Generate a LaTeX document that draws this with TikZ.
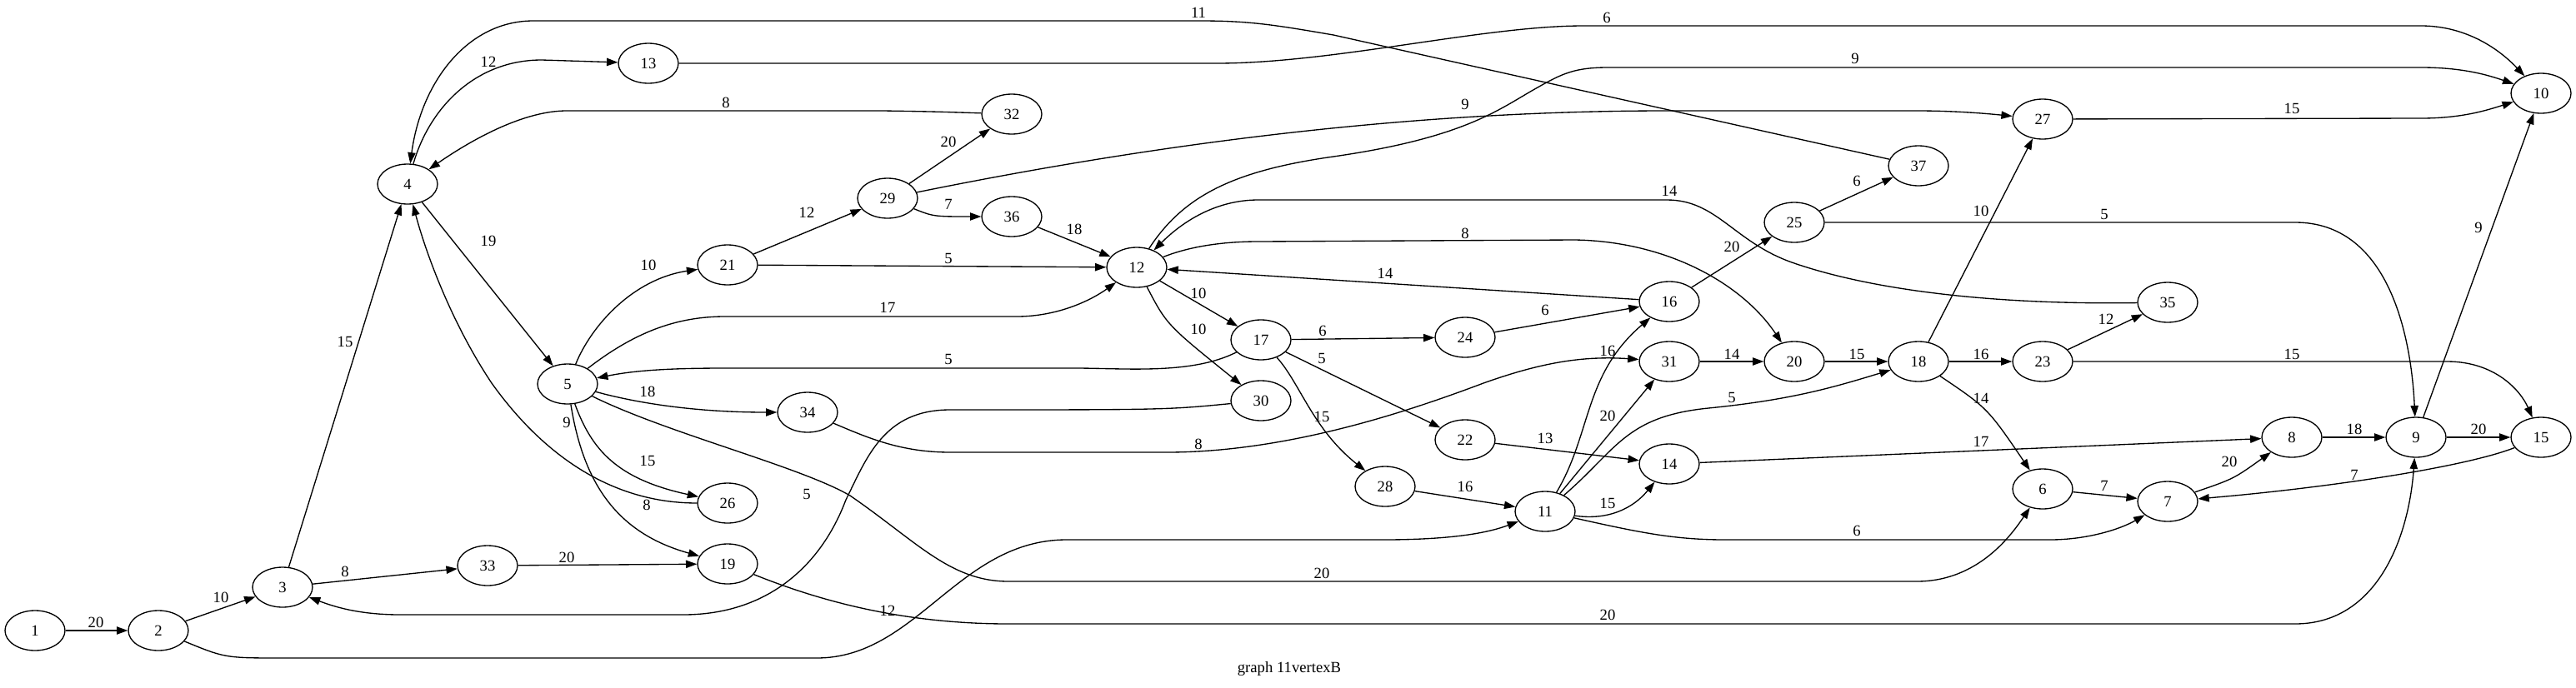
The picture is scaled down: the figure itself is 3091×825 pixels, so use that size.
\documentclass[tikz,border=0pt]{standalone}
\usepackage{fontspec}
\setmainfont{Liberation Serif}
\usetikzlibrary{shapes.geometric,arrows.meta}
\newcommand{\gvvertex}[2]{\node[VertexStyle] (v#1) at (#2) {#1};}
\newcommand{\gvweight}[3]{\node[LabelStyle] (w#1) at (#2) {#3};}
\tikzset{
  VertexStyle/.style={draw, ellipse, line width=1pt, minimum width=54pt,
                      minimum height=36pt, inner sep=0pt,
                      font=\fontsize{14}{16}\selectfont},
  EdgeStyle/.style={line width=1pt, -{Triangle[length=10pt,width=7pt]}},
  LabelStyle/.style={inner sep=0pt, font=\fontsize{14}{16}\selectfont}
}

\begin{document}
\begin{tikzpicture}[x=0.75pt, y=-0.75pt]
  \useasboundingbox (0,0) rectangle (3091,825);
  \gvvertex{1}{42,757}
  \gvvertex{2}{190,757}
  \gvvertex{3}{339,705}
  \gvvertex{4}{489,221}
  \gvvertex{33}{585,679}
  \gvvertex{5}{681,461}
  \gvvertex{13}{778,76}
  \gvvertex{21}{873,318}
  \gvvertex{26}{873,604}
  \gvvertex{19}{873,677}
  \gvvertex{34}{969,495}
  \gvvertex{29}{1065,238}
  \gvvertex{32}{1214,137}
  \gvvertex{36}{1214,260}
  \gvvertex{12}{1364,321}
  \gvvertex{17}{1513,408}
  \gvvertex{30}{1513,481}
  \gvvertex{28}{1662,584}
  \gvvertex{24}{1758,405}
  \gvvertex{22}{1758,528}
  \gvvertex{11}{1854,614}
  \gvvertex{16}{2003,362}
  \gvvertex{31}{2003,434}
  \gvvertex{14}{2003,557}
  \gvvertex{25}{2153,267}
  \gvvertex{20}{2153,434}
  \gvvertex{37}{2302,199}
  \gvvertex{18}{2302,434}
  \gvvertex{27}{2451,143}
  \gvvertex{23}{2451,434}
  \gvvertex{6}{2451,587}
  \gvvertex{35}{2601,363}
  \gvvertex{7}{2601,602}
  \gvvertex{8}{2750,525}
  \gvvertex{9}{2899,525}
  \gvvertex{10}{3049,112}
  \gvvertex{15}{3049,525}
  \node[LabelStyle] (title) at (1547,803) {graph 11vertexB};

  \draw[EdgeStyle] (v1) -- (v2);
  \draw[EdgeStyle] (v2) -- (v3);
  \draw[EdgeStyle] (v2) .. controls (270,790) .. (340,790) -- (980,790) .. controls (1100,790) and (1150,648) .. (1280,648) -- (1660,648) .. controls (1750,648) and (1790,638) .. (v11);
  \draw[EdgeStyle] (v3) -- (v33);
  \draw[EdgeStyle] (v3) -- (v4);
  \draw[EdgeStyle] (v4) .. controls (515,130) and (570,72) .. (650,72) -- (v13);
  \draw[EdgeStyle] (v4) -- (v5);
  \draw[EdgeStyle] (v5) .. controls (710,390) and (760,335) .. (v21);
  \draw[EdgeStyle] (v5) .. controls (760,400) and (810,380) .. (870,380) -- (1220,380) .. controls (1270,380) and (1310,360) .. (v12);
  \draw[EdgeStyle] (v5) .. controls (750,480) and (820,495) .. (v34);
  \draw[EdgeStyle] (v5) .. controls (710,540) and (740,575) .. (v26);
  \draw[EdgeStyle] (v5) .. controls (700,580) and (740,640) .. (v19);
  \draw[EdgeStyle] (v5) .. controls (800,520) and (960,560) .. (1020,595) .. controls (1100,650) and (1140,698) .. (1210,698) -- (2300,698) .. controls (2375,698) and (2415,640) .. (v6);
  \draw[EdgeStyle] (v17) .. controls (1430,450) and (1350,442) .. (1290,442) -- (870,442) .. controls (800,442) and (760,445) .. (v5);
  \draw[EdgeStyle] (v26) .. controls (720,604) and (640,530) .. (590,460) .. controls (540,385) and (510,300) .. (v4);
  \draw[EdgeStyle] (v32) .. controls (1120,134) .. (1060,133) -- (680,133) .. controls (630,133) and (570,165) .. (v4);
  \draw[EdgeStyle] (v37) -- (1600,42) .. controls (1530,30) and (1500,25) .. (1440,25) -- (640,25) .. controls (560,25) and (505,100) .. (v4);
  \draw[EdgeStyle] (v33) -- (v19);
  \draw[EdgeStyle] (v13) -- (1460,76) .. controls (1600,76) and (1780,31) .. (1900,31) -- (2905,31) .. controls (2955,31) and (2995,55) .. (v10);
  \draw[EdgeStyle] (v21) -- (v29);
  \draw[EdgeStyle] (v21) -- (v12);
  \draw[EdgeStyle] (v29) -- (v32);
  \draw[EdgeStyle] (v29) .. controls (1120,260) .. (v36);
  \draw[EdgeStyle] (v29) .. controls (1400,170) and (1700,133) .. (2000,133) -- (2300,133) .. controls (2350,133) and (2390,137) .. (v27);
  \draw[EdgeStyle] (v36) -- (v12);
  \draw[EdgeStyle] (v12) -- (v17);
  \draw[EdgeStyle] (v12) .. controls (1400,390) .. (v30);
  \draw[EdgeStyle] (v12) .. controls (1420,235) and (1480,205) .. (1600,188) .. controls (1760,165) and (1800,130) .. (1845,105) .. controls (1875,88) and (1890,81) .. (1930,81) -- (2905,81) .. controls (2955,81) and (2985,90) .. (v10);
  \draw[EdgeStyle] (v12) .. controls (1430,295) and (1470,290) .. (1510,290) -- (1890,288) .. controls (2000,290) and (2090,340) .. (v20);
  \draw[EdgeStyle] (v35) .. controls (2400,366) and (2250,350) .. (2150,315) .. controls (2080,290) and (2060,240) .. (2000,240) -- (1510,240) .. controls (1460,240) and (1420,265) .. (v12);
  \draw[EdgeStyle] (v16) -- (v12);
  \draw[EdgeStyle] (v30) .. controls (1400,492) .. (1140,492) .. controls (1060,492) and (1040,550) .. (1015,600) .. controls (985,680) and (920,738) .. (820,738) -- (480,738) .. controls (430,738) and (400,728) .. (v3);
  \draw[EdgeStyle] (v34) .. controls (1040,525) and (1080,543) .. (1140,543) -- (1400,543) .. controls (1550,543) and (1700,490) .. (1780,460) .. controls (1850,435) and (1900,427) .. (v31);
  \draw[EdgeStyle] (v19) .. controls (980,720) and (1080,749) .. (1210,749) -- (2754,749) .. controls (2850,749) and (2890,650) .. (v9);
  \draw[EdgeStyle] (v17) -- (v24);
  \draw[EdgeStyle] (v17) -- (v22);
  \draw[EdgeStyle] (v17) .. controls (1560,460) and (1575,515) .. (v28);
  \draw[EdgeStyle] (v28) -- (v11);
  \draw[EdgeStyle] (v22) -- (v14);
  \draw[EdgeStyle] (v24) -- (v16);
  \draw[EdgeStyle] (v11) .. controls (1910,520) and (1900,450) .. (v16);
  \draw[EdgeStyle] (v11) -- (v31);
  \draw[EdgeStyle] (v11) .. controls (1940,540) and (1950,500) .. (2050,490) .. controls (2150,480) and (2200,465) .. (v18);
  \draw[EdgeStyle] (v11) .. controls (1930,625) and (1960,610) .. (v14);
  \draw[EdgeStyle] (v11) .. controls (1970,640) and (2010,648) .. (2070,648) -- (2460,648) .. controls (2505,648) and (2545,635) .. (v7);
  \draw[EdgeStyle] (v16) -- (v25);
  \draw[EdgeStyle] (v25) -- (v37);
  \draw[EdgeStyle] (v25) -- (2754,267) .. controls (2865,267) and (2893,400) .. (v9);
  \draw[EdgeStyle] (v31) -- (v20);
  \draw[EdgeStyle] (v20) -- (v18);
  \draw[EdgeStyle] (v18) -- (v27);
  \draw[EdgeStyle] (v18) -- (v23);
  \draw[EdgeStyle] (v18) .. controls (2385,490) .. (v6);
  \draw[EdgeStyle] (v27) -- (2905,142) .. controls (2955,142) and (2985,132) .. (v10);
  \draw[EdgeStyle] (v23) -- (v35);
  \draw[EdgeStyle] (v23) -- (2936,434) .. controls (2995,434) and (3025,470) .. (v15);
  \draw[EdgeStyle] (v14) -- (v8);
  \draw[EdgeStyle] (v6) -- (v7);
  \draw[EdgeStyle] (v7) .. controls (2680,575) .. (v8);
  \draw[EdgeStyle] (v8) -- (v9);
  \draw[EdgeStyle] (v9) -- (v15);
  \draw[EdgeStyle] (v9) -- (v10);
  \draw[EdgeStyle] (v15) .. controls (2960,560) and (2800,585) .. (v7);

  \gvweight{1-2}{115,747}{20}
  \gvweight{2-3}{265,717}{10}
  \gvweight{2-11}{1065,733}{12}
  \gvweight{3-33}{414,686}{8}
  \gvweight{3-4}{414,410}{15}
  \gvweight{4-13}{586,74}{12}
  \gvweight{4-5}{586,289}{19}
  \gvweight{5-21}{778,318}{10}
  \gvweight{5-12}{1065,369}{17}
  \gvweight{5-34}{777,470}{18}
  \gvweight{5-26}{777,553}{15}
  \gvweight{5-19}{776,606}{8}
  \gvweight{5-6}{1586,688}{20}
  \gvweight{17-5}{1138,431}{5}
  \gvweight{26-4}{680,507}{9}
  \gvweight{32-4}{871,123}{8}
  \gvweight{37-4}{1438,15}{11}
  \gvweight{33-19}{680,669}{20}
  \gvweight{13-10}{1928,21}{6}
  \gvweight{21-29}{968,255}{12}
  \gvweight{21-12}{1138,310}{5}
  \gvweight{29-32}{1138,170}{20}
  \gvweight{29-36}{1138,245}{7}
  \gvweight{29-27}{1758,125}{9}
  \gvweight{36-12}{1289,275}{18}
  \gvweight{12-17}{1438,352}{10}
  \gvweight{12-30}{1438,395}{10}
  \gvweight{12-10}{2226,70}{9}
  \gvweight{12-20}{1758,280}{8}
  \gvweight{35-12}{2003,229}{14}
  \gvweight{16-12}{1662,328}{14}
  \gvweight{30-3}{968,593}{5}
  \gvweight{34-31}{1438,533}{8}
  \gvweight{19-9}{1929,738}{20}
  \gvweight{17-24}{1587,397}{6}
  \gvweight{17-22}{1586,430}{5}
  \gvweight{17-28}{1586,500}{15}
  \gvweight{28-11}{1758,584}{16}
  \gvweight{22-14}{1854,526}{13}
  \gvweight{24-16}{1854,372}{6}
  \gvweight{11-16}{1929,421}{16}
  \gvweight{11-31}{1929,499}{20}
  \gvweight{11-18}{2078,477}{5}
  \gvweight{11-14}{1929,604}{15}
  \gvweight{11-7}{2228,637}{6}
  \gvweight{16-25}{2078,296}{20}
  \gvweight{25-37}{2228,217}{6}
  \gvweight{25-9}{2525,257}{5}
  \gvweight{31-20}{2078,425}{14}
  \gvweight{20-18}{2228,425}{15}
  \gvweight{18-27}{2377,253}{10}
  \gvweight{18-23}{2377,425}{16}
  \gvweight{18-6}{2377,478}{14}
  \gvweight{27-10}{2750,130}{15}
  \gvweight{23-35}{2527,383}{12}
  \gvweight{23-15}{2750,425}{15}
  \gvweight{14-8}{2377,530}{17}
  \gvweight{6-7}{2525,583}{7}
  \gvweight{7-8}{2675,554}{20}
  \gvweight{8-9}{2825,515}{18}
  \gvweight{9-15}{2974,515}{20}
  \gvweight{9-10}{2974,273}{9}
  \gvweight{15-7}{2825,570}{7}
\end{tikzpicture}
\end{document}
